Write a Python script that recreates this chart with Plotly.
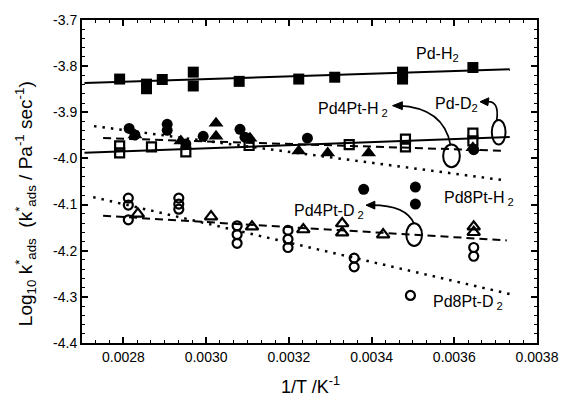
import plotly.graph_objects as go

# ---------------- data ----------------
pdh2_x = [0.002791, 0.002856, 0.002856, 0.002894, 0.002969, 0.002969, 0.003080, 0.003224, 0.003311, 0.003475, 0.003475, 0.003645]
pdh2_y = [-3.828, -3.839, -3.849, -3.829, -3.813, -3.843, -3.833, -3.828, -3.824, -3.813, -3.828, -3.803]

pdd2_x = [0.002791, 0.002791, 0.002868, 0.002951, 0.003104, 0.003346, 0.003482, 0.003482, 0.003645, 0.003645]
pdd2_y = [-3.973, -3.988, -3.975, -3.986, -3.972, -3.970, -3.958, -3.975, -3.945, -3.962]

pd4h2_x = [0.002828, 0.002939, 0.003024, 0.003024, 0.003106, 0.003224, 0.003294, 0.003393, 0.003645]
pd4h2_y = [-3.949, -3.962, -3.924, -3.952, -3.956, -3.984, -3.988, -3.988, -3.977]

pd8h2_x = [0.002814, 0.002828, 0.002906, 0.002906, 0.002951, 0.002993, 0.003082, 0.003094, 0.003245, 0.003381, 0.003506, 0.003506, 0.003647]
pd8h2_y = [-3.935, -3.949, -3.926, -3.939, -3.969, -3.952, -3.937, -3.954, -3.956, -4.067, -4.062, -4.099, -3.981]

pd4d2_x = [0.002835, 0.003012, 0.003111, 0.003235, 0.003329, 0.003329, 0.003428, 0.003647, 0.003647]
pd4d2_y = [-4.120, -4.126, -4.148, -4.154, -4.141, -4.161, -4.165, -4.148, -4.160]

pd8d2_x = [0.002812, 0.002812, 0.002812, 0.002934, 0.002934, 0.002934, 0.003075, 0.003075, 0.003075,
           0.003198, 0.003198, 0.003198, 0.003358, 0.003358, 0.003494, 0.003647, 0.003647]
pd8d2_y = [-4.086, -4.101, -4.133, -4.086, -4.099, -4.110, -4.146, -4.165, -4.184,
           -4.156, -4.175, -4.193, -4.216, -4.235, -4.297, -4.193, -4.212]

# fitted lines (end points)
fit_pdh2_x = [0.002706, 0.003734]; fit_pdh2_y = [-3.8365, -3.8066]
fit_pdd2_x = [0.002706, 0.003734]; fit_pdd2_y = [-3.9878, -3.9537]
fit_pd4h2_x = [0.002751, 0.003722]; fit_pd4h2_y = [-3.9559, -3.9836]
fit_pd8h2_x = [0.002729, 0.003722]; fit_pd8h2_y = [-3.930, -4.0475]
fit_pd4d2_x = [0.002751, 0.003727]; fit_pd4d2_y = [-4.1243, -4.1776]
fit_pd8d2_x = [0.002727, 0.003739]; fit_pd8d2_y = [-4.0838, -4.2949]

x_ticks = [0.0028, 0.0030, 0.0032, 0.0034, 0.0036, 0.0038]
x_ticktext = ["0.0028", "0.0030", "0.0032", "0.0034", "0.0036", "0.0038"]
y_ticks = [-3.7, -3.8, -3.9, -4.0, -4.1, -4.2, -4.3, -4.4]
y_ticktext = ["-3.7", "-3.8", "-3.9", "-4.0", "-4.1", "-4.2", "-4.3", "-4.4"]

# ---------------- figure ----------------
W, H = 571, 401
L, R, T, B = 82, 26, 15, 58
PW, PH = W - L - R, H - T - B

def px(x):
    return (x - L) / PW

def py(y):
    return (H - B - y) / PH

fig = go.Figure()

def line(xs, ys, dash, width=2):
    fig.add_trace(go.Scatter(x=xs, y=ys, mode="lines",
                             line=dict(color="black", width=width, dash=dash),
                             showlegend=False, hoverinfo="skip"))

line(fit_pdh2_x, fit_pdh2_y, "solid")
line(fit_pdd2_x, fit_pdd2_y, "solid")
line(fit_pd4h2_x, fit_pd4h2_y, "8px,5px")
line(fit_pd8h2_x, fit_pd8h2_y, "2.5px,6px", 2.5)
line(fit_pd4d2_x, fit_pd4d2_y, "8px,5px")
line(fit_pd8d2_x, fit_pd8d2_y, "2.5px,6px", 2.5)

def pts(xs, ys, symbol, size):
    open_ = symbol.endswith("open")
    fig.add_trace(go.Scatter(x=xs, y=ys, mode="markers",
                             marker=dict(symbol=symbol, size=size, color="black",
                                         line=dict(color="black", width=2.2 if open_ else 0)),
                             showlegend=False))

pts(pdh2_x, pdh2_y, "square", 11)
pts(pdd2_x, pdd2_y, "square-open", 9)
pts(pd4h2_x, pd4h2_y, "triangle-up", 13)
pts(pd8h2_x, pd8h2_y, "circle", 11)
pts(pd4d2_x, pd4d2_y, "triangle-up-open", 11)
pts(pd8d2_x, pd8d2_y, "circle-open", 9)

font = "Liberation Sans, Arial, sans-serif"

labels = [
    ("Pd-H<sub>2</sub>", 444, 50),
    ("Pd4Pt-H<sub> 2</sub>", 358, 106),
    ("Pd-D<sub>2</sub>", 463, 101),
    ("Pd8Pt-H<sub> 2</sub>", 486, 196),
    ("Pd4Pt-D<sub> 2</sub>", 333, 209),
    ("Pd8Pt-D<sub> 2</sub>", 475, 302),
]
annotations = []
for t, x, y in labels:
    annotations.append(dict(text=t, x=px(x), y=py(y), xref="paper", yref="paper",
                            showarrow=False, font=dict(family=font, size=16, color="black"),
                            xanchor="center", yanchor="middle"))

annotations.append(dict(text="1/T /K<sup>-1</sup>", x=px(315), y=py(386), xref="paper", yref="paper",
                        showarrow=False, font=dict(family=font, size=18, color="black"),
                        xanchor="center", yanchor="middle"))
annotations.append(dict(text="Log<sub>10</sub> k<sup>*</sup><sub>ads</sub>  (k<sup>*</sup><sub>ads</sub> / Pa<sup>-1</sup> sec<sup>-1</sup>)",
                        x=px(24), y=py(202), xref="paper", yref="paper", textangle=-90,
                        showarrow=False, font=dict(family=font, size=19, color="black"),
                        xanchor="center", yanchor="middle"))

shapes = []
def ellipse(cx, cy, w, h):
    shapes.append(dict(type="circle", xref="paper", yref="paper",
                       x0=px(cx - w / 2), x1=px(cx + w / 2), y0=py(cy + h / 2), y1=py(cy - h / 2),
                       line=dict(color="black", width=2)))

ellipse(506, 129, 14, 25)
ellipse(458, 153, 17, 23)
ellipse(420, 233, 16, 23)

def curve(p0, c, p1):
    path = "M %f,%f Q %f,%f %f,%f" % (px(p0[0]), py(p0[1]), px(c[0]), py(c[1]), px(p1[0]), py(p1[1]))
    shapes.append(dict(type="path", xref="paper", yref="paper", path=path,
                       line=dict(color="black", width=1.7)))

def head(tip, back1, back2):
    path = "M %f,%f L %f,%f L %f,%f Z" % (px(tip[0]), py(tip[1]), px(back1[0]), py(back1[1]),
                                         px(back2[0]), py(back2[1]))
    shapes.append(dict(type="path", xref="paper", yref="paper", path=path,
                       fillcolor="black", line=dict(color="black", width=1)))

curve((457, 142), (450, 104), (404, 102))
head((398, 102), (408, 98), (408, 106))
curve((504, 117), (507, 96), (493, 98))
head((487, 98), (496, 94), (495, 102))
curve((420, 222), (412, 203), (377, 203))
head((371, 203), (380, 199), (380, 207))

axis_common = dict(showline=True, linewidth=2, linecolor="black", mirror="allticks",
                   ticks="inside", ticklen=6, tickwidth=1.5, tickcolor="black",
                   showgrid=False, zeroline=False,
                   tickfont=dict(family=font, size=14, color="black"))

fig.update_layout(
    width=W, height=H, margin=dict(l=L, r=R, t=T, b=B),
    paper_bgcolor="white", plot_bgcolor="white",
    xaxis=dict(range=[0.0027, 0.0038], tickvals=x_ticks, ticktext=x_ticktext,
               minor=dict(ticks="inside", ticklen=3, tickwidth=1.2, tickcolor="black",
                          tick0=0.0028, dtick=0.0002 / 6, showgrid=False),
               **axis_common),
    yaxis=dict(range=[-4.4, -3.7], tickvals=y_ticks, ticktext=y_ticktext,
               minor=dict(ticks="inside", ticklen=3, tickwidth=1.2, tickcolor="black",
                          dtick=0.02, showgrid=False),
               **axis_common),
    annotations=annotations, shapes=shapes, showlegend=False,
)

fig.write_html("out.html")
